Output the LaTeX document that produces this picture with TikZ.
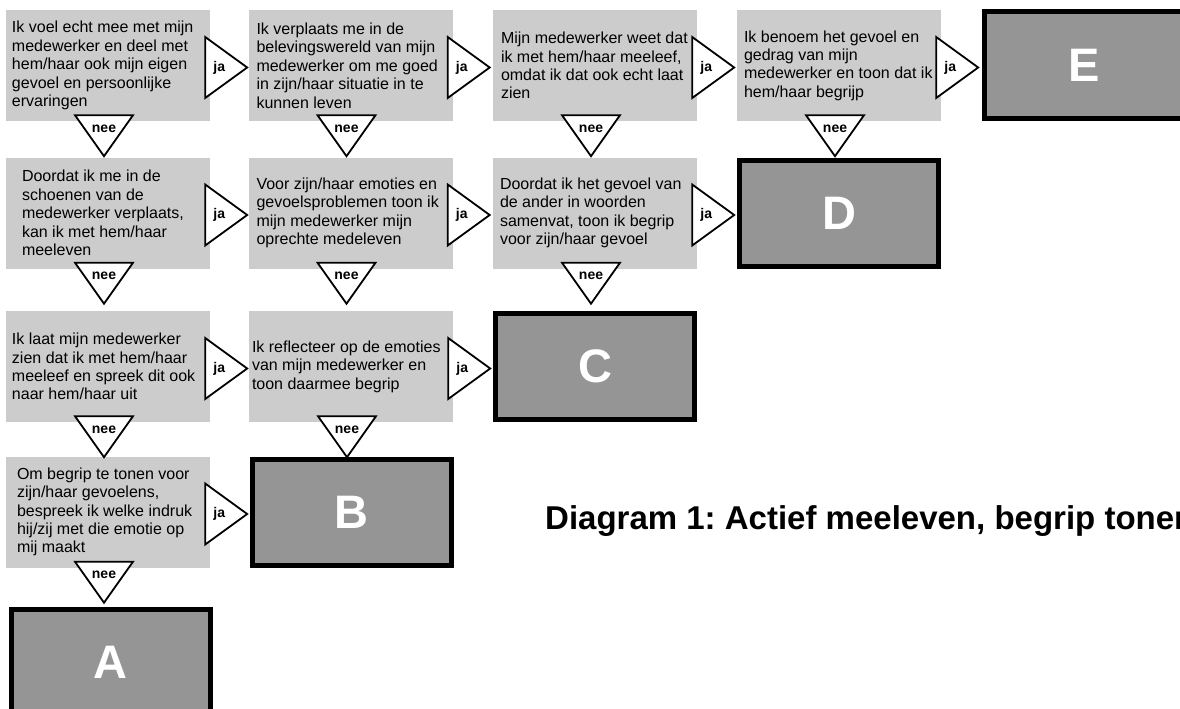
\documentclass[tikz,border=0pt]{standalone}
\usepackage{fontspec}
\setmainfont{Liberation Sans}
\usetikzlibrary{calc}
\frenchspacing
\definecolor{boxgray}{HTML}{CCCCCC}
\definecolor{endgray}{HTML}{959595}
\tikzset{
  gbox/.style={fill=boxgray, minimum width=204pt, minimum height=111pt, inner sep=0pt},
  gtext/.style={anchor=west, align=left, inner sep=0pt, font=\fontsize{16}{18.4}\selectfont},
  endbox/.style={fill=endgray, draw=black, line width=5pt, minimum width=199pt, minimum height=106pt,
    text=white, font=\fontsize{47}{50}\selectfont\bfseries},
  tri/.style={draw=black, fill=white, line width=1.8pt, line join=miter},
  lbl/.style={font=\fontsize{14}{15}\selectfont\bfseries, inner sep=0pt},
  title/.style={font=\fontsize{33}{39}\selectfont\bfseries, inner sep=0pt, anchor=base west}
}
\newcommand\qbox[5]{% name, x, y, indent, text
  \node[gbox] (#1) at (#2,#3) {};
  \node[gtext] (#1t) at ($(#1.west)+(#4,0)$) {#5};}
\newcommand\jaTri[1]{%
  \draw[tri] ($(#1.east)+(-5,-28.5)$) -- ($(#1.east)+(-5,32.5)$) -- ($(#1.east)+(37,2)$) -- cycle;
  \node[lbl] (#1-ja) at ($(#1.east)+(9,2)$) {ja};}
\newcommand\neeTri[1]{%
  \draw[tri] ($(#1.south)+(-33,-6)$) -- ($(#1.south)+(25,-6)$) -- ($(#1.south)+(-4,35)$) -- cycle;
  \node[lbl] (#1-nee) at ($(#1.south)+(-4,7.5)$) {nee};}
\begin{document}
\begin{tikzpicture}[x=1pt,y=-1pt]
\useasboundingbox (0,0) rectangle (1180,709);
\clip (0,0) rectangle (1180,709);
\fill[white] (0,0) rectangle (1180,709);

% grey question boxes
\qbox{b11}{108}{65.5}{6}{Ik voel echt mee met mijn\\medewerker en deel met\\hem/haar ook mijn eigen\\gevoel en persoonlijke\\ervaringen}
\qbox{b12}{350.5}{65.5}{8}{Ik verplaats me in de\\belevingswereld van mijn\\medewerker om me goed\\in zijn/haar situatie in te\\kunnen leven}
\qbox{b13}{595}{65.5}{8}{Mijn medewerker weet dat\\ik met hem/haar meeleef,\\omdat ik dat ook echt laat\\zien}
\qbox{b14}{839}{65.5}{7}{Ik benoem het gevoel en\\gedrag van mijn\\medewerker en toon dat ik\\hem/haar begrijp}
\qbox{b21}{108}{213}{16}{Doordat ik me in de\\schoenen van de\\medewerker verplaats,\\kan ik met hem/haar\\meeleven}
\qbox{b22}{350.5}{213}{8}{Voor zijn/haar emoties en\\gevoelsproblemen toon ik\\mijn medewerker mijn\\oprechte medeleven}
\qbox{b23}{595}{213}{7}{Doordat ik het gevoel van\\de ander in woorden\\samenvat, toon ik begrip\\voor zijn/haar gevoel}
\qbox{b31}{108}{366.5}{6}{Ik laat mijn medewerker\\zien dat ik met hem/haar\\meeleef en spreek dit ook\\naar hem/haar uit}
\qbox{b32}{351}{366.5}{3}{Ik reflecteer op de emoties\\van mijn medewerker en\\toon daarmee begrip}
\qbox{b41}{108}{512}{11}{Om begrip te tonen voor\\zijn/haar gevoelens,\\bespreek ik welke indruk\\hij/zij met die emotie op\\mij maakt}

% end boxes
\node[endbox] (E) at (1084,65) {E};
\node[endbox] (D) at (839,213.5) {D};
\node[endbox] (C) at (595,366) {C};
\node[endbox] (B) at (351.5,512) {B};
\node[endbox] (A) at (110.5,662) {A};

% ja connectors
\jaTri{b11}\jaTri{b12}\jaTri{b13}\jaTri{b14}
\jaTri{b21}\jaTri{b22}\jaTri{b23}
\jaTri{b31}\jaTri{b32}
\jaTri{b41}
% nee connectors
\neeTri{b11}\neeTri{b12}\neeTri{b13}\neeTri{b14}
\neeTri{b21}\neeTri{b22}\neeTri{b23}
\neeTri{b31}\neeTri{b32}
\neeTri{b41}

\node[title] (title) at (545,529) {Diagram 1: Actief meeleven, begrip tonen};
\end{tikzpicture}
\end{document}
